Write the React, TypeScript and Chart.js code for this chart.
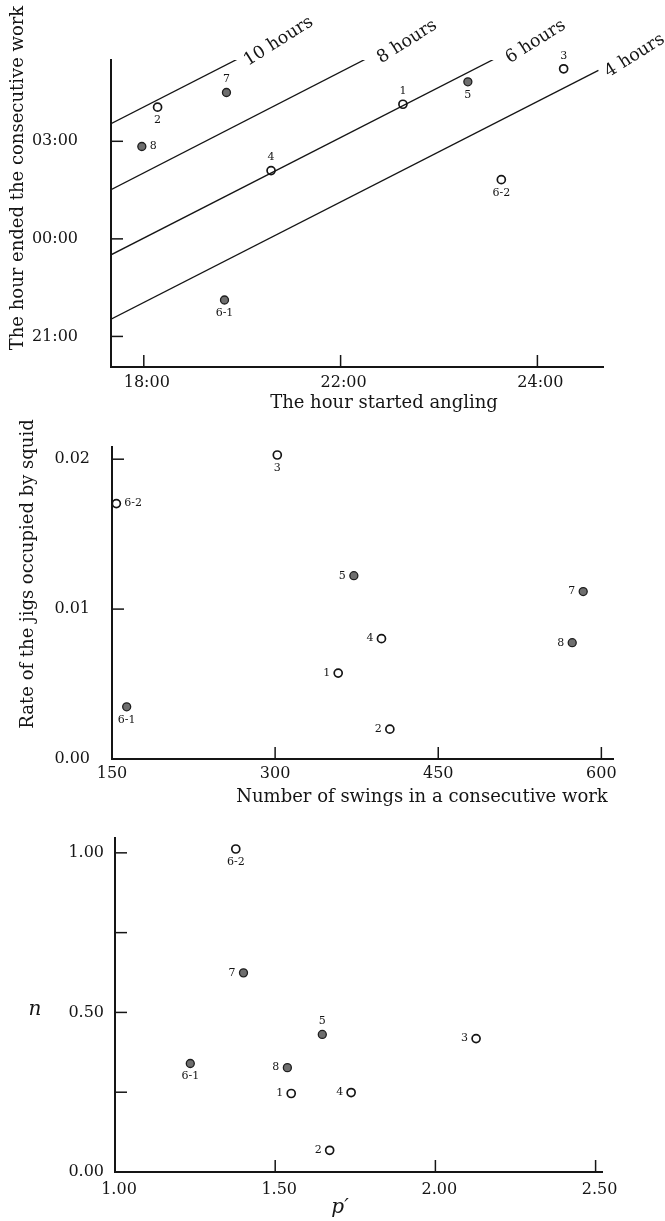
import React, { useEffect, useRef } from 'react';
import { Chart, registerables } from 'chart.js';

Chart.register(...registerables);

// ---------- shared ----------
const pointIds = ['1', '2', '3', '4', '5', '6-1', '6-2', '7', '8'];
const filledIds = ['5', '6-1', '7', '8'];

// ---------- figure 1 ----------
const startHour = [21.95, 18.21, 24.4, 19.94, 22.94, 19.23, 23.45, 19.26, 17.97];
const endHour = [28.14, 28.05, 29.23, 26.1, 28.83, 22.12, 25.82, 28.5, 26.84];
const durationLabels = ['10 hours', '8 hours', '6 hours', '4 hours'];
const durStartX = [17.5, 17.5, 17.5, 17.5];
const durStartY = [27.54, 25.51, 23.51, 21.53];
const durEndX = [19.43, 21.46, 23.42, 24.93];
const durEndY = [29.53, 29.61, 29.61, 29.18];
const hourTickValues = [18, 21, 24];
const hourTickLabels = ['18:00', '22:00', '24:00'];
const endTickValues = [21, 24, 27];
const endTickLabels = ['21:00', '00:00', '03:00'];

// ---------- figure 2 ----------
const swings = [358, 405.5, 302, 397.8, 372.4, 163.5, 154, 583.3, 573.2];
const jigRate = [0.00573, 0.00199, 0.02028, 0.00803, 0.01223, 0.00348, 0.01704, 0.01117, 0.00776];
const swingTickValues = [150, 300, 450, 600];
const swingTickLabels = ['150', '300', '450', '600'];
const rateTickValues = [0, 0.01, 0.02];
const rateTickLabels = ['0.00', '0.01', '0.02'];

// ---------- figure 3 ----------
const pPrime = [1.55, 1.67, 2.127, 1.737, 1.647, 1.235, 1.377, 1.401, 1.538];
const nValues = [0.246, 0.068, 0.418, 0.249, 0.431, 0.34, 1.012, 0.624, 0.327];
const pTickValues = [1.0, 1.5, 2.0, 2.5];
const pTickLabels = ['1.00', '1.50', '2.00', '2.50'];
const nTickValues = [0, 0.25, 0.5, 0.75, 1.0];
const nTickLabels = ['0.00', '', '0.50', '', '1.00'];

// label placement (style) per point id order
const side1 = ['above', 'below', 'above', 'above', 'below', 'below', 'below', 'above', 'right'];
const side2 = ['left', 'left', 'below', 'left', 'left', 'below', 'right', 'left', 'left'];
const side3 = ['left', 'left', 'left', 'left', 'above', 'below', 'below', 'left', 'left'];

const FONT = '"DejaVu Serif", serif';
const INK = '#151515';

function pointsFor(xs: number[], ys: number[], filled: boolean) {
  return pointIds
    .map((id, i) => ({ x: xs[i], y: ys[i], id }))
    .filter((p) => filledIds.includes(p.id) === filled);
}

const annotPlugin = {
  id: 'annot',
  afterDraw(chart: any, _args: any, opts: any) {
    const ctx = chart.ctx as CanvasRenderingContext2D;
    const xs = chart.scales.x;
    const ys = chart.scales.y;
    const area = chart.chartArea;
    ctx.save();
    ctx.strokeStyle = INK;
    ctx.lineWidth = 1.5;
    const tl = 12;
    (opts.xTicks || []).forEach((v: number) => {
      const px = xs.getPixelForValue(v);
      ctx.beginPath();
      ctx.moveTo(px, area.bottom);
      ctx.lineTo(px, area.bottom - tl);
      ctx.stroke();
    });
    (opts.yTicks || []).forEach((v: number) => {
      const py = ys.getPixelForValue(v);
      ctx.beginPath();
      ctx.moveTo(area.left, py);
      ctx.lineTo(area.left + tl, py);
      ctx.stroke();
    });

    chart.data.datasets.forEach((ds: any, di: number) => {
      const meta = chart.getDatasetMeta(di);
      if (ds.lineLabel) {
        const p0 = meta.data[0];
        const p1 = meta.data[meta.data.length - 1];
        const ang = Math.atan2(p1.y - p0.y, p1.x - p0.x);
        ctx.save();
        ctx.translate(p1.x, p1.y);
        ctx.rotate(ang);
        ctx.translate(6, 11);
        ctx.rotate(-0.09);
        ctx.font = '17.5px ' + FONT;
        ctx.fillStyle = INK;
        ctx.textAlign = 'left';
        ctx.textBaseline = 'alphabetic';
        ctx.fillText(ds.lineLabel, 0, 0);
        ctx.restore();
      }
      if (ds.pointLabels) {
        ctx.font = '11px ' + FONT;
        ctx.fillStyle = INK;
        meta.data.forEach((el: any, i: number) => {
          const id = ds.data[i].id;
          const side = opts.sides[pointIds.indexOf(id)];
          let x = el.x;
          let y = el.y;
          ctx.textBaseline = 'middle';
          if (side === 'above') { ctx.textAlign = 'center'; y -= 13; }
          else if (side === 'below') { ctx.textAlign = 'center'; y += 13; }
          else if (side === 'left') { ctx.textAlign = 'right'; x -= 8; }
          else { ctx.textAlign = 'left'; x += 8; }
          ctx.fillText(id, x, y);
        });
      }
    });

    (opts.texts || []).forEach((t: any) => {
      ctx.save();
      ctx.translate(t.x, t.y);
      if (t.rot) ctx.rotate(t.rot);
      ctx.font = (t.italic ? 'italic ' : '') + t.size + 'px ' + FONT;
      ctx.fillStyle = INK;
      ctx.textAlign = 'center';
      ctx.textBaseline = 'middle';
      ctx.fillText(t.text, 0, 0);
      ctx.restore();
    });
    ctx.restore();
  },
};

function axis(opts: {
  min: number; max: number; values: number[]; labels: string[]; padding: number;
  fit: (s: any) => void; labelOffset?: number;
}) {
  return {
    type: 'linear',
    min: opts.min,
    max: opts.max,
    afterBuildTicks: (s: any) => { s.ticks = opts.values.map((v) => ({ value: v })); },
    afterFit: opts.fit,
    ticks: {
      callback: (_v: any, i: number) => opts.labels[i] ?? '',
      font: { size: 16, family: FONT },
      color: INK,
      padding: opts.padding,
      autoSkip: false,
      maxRotation: 0,
      minRotation: 0,
      labelOffset: opts.labelOffset ?? 0,
    },
    grid: { display: false, drawTicks: false },
    border: { display: true, color: INK, width: 2 },
  };
}

const openStyle = {
  pointRadius: 4,
  pointBackgroundColor: '#ffffff',
  pointBorderColor: INK,
  pointBorderWidth: 1.7,
  showLine: false,
  pointLabels: true,
};
const filledStyle = {
  pointRadius: 4,
  pointBackgroundColor: '#6e6e6e',
  pointBorderColor: '#1e1e1e',
  pointBorderWidth: 1.3,
  showLine: false,
  pointLabels: true,
};

function baseOptions(pad: any, scales: any, annot: any) {
  return {
    responsive: false,
    animation: false,
    events: [],
    layout: { padding: pad },
    plugins: { legend: { display: false }, tooltip: { enabled: false }, annot },
    scales,
  };
}

function config1(h: number) {
  const lines = durationLabels.map((lab, i) => ({
    type: 'scatter',
    data: [{ x: durStartX[i], y: durStartY[i] }, { x: durEndX[i], y: durEndY[i] }],
    showLine: true,
    pointRadius: 0,
    borderColor: INK,
    borderWidth: 1.3,
    lineLabel: lab,
  }));
  return {
    type: 'scatter',
    data: {
      datasets: [
        ...lines,
        { data: pointsFor(startHour, endHour, false), ...openStyle },
        { data: pointsFor(startHour, endHour, true), ...filledStyle },
      ],
    },
    options: baseOptions(
      { top: 60, right: 62, left: 0, bottom: 0 },
      {
        x: axis({ min: 17.5, max: 25.0, values: hourTickValues, labels: hourTickLabels, padding: 6, labelOffset: 3, fit: (s) => { s.height = h - 367; } }),
        y: axis({ min: 20.06, max: 29.5, values: endTickValues, labels: endTickLabels, padding: 33, fit: (s) => { s.width = 111; } }),
      },
      {
        xTicks: hourTickValues,
        yTicks: endTickValues,
        sides: side1,
        texts: [
          { text: 'The hour ended the consecutive work', x: 18, y: 178, rot: -Math.PI / 2, size: 18 },
          { text: 'The hour started angling', x: 384, y: 403, size: 18 },
        ],
      }
    ),
    plugins: [annotPlugin],
  };
}

function config2(h: number) {
  return {
    type: 'scatter',
    data: {
      datasets: [
        { data: pointsFor(swings, jigRate, false), ...openStyle },
        { data: pointsFor(swings, jigRate, true), ...filledStyle },
      ],
    },
    options: baseOptions(
      { top: 5, right: 52, left: 0, bottom: 0 },
      {
        x: axis({ min: 150, max: 610.7, values: swingTickValues, labels: swingTickLabels, padding: 5, fit: (s) => { s.height = h - 344; } }),
        y: axis({ min: 0, max: 0.02084, values: rateTickValues, labels: rateTickLabels, padding: 22, fit: (s) => { s.width = 112; } }),
      },
      {
        xTicks: [300, 450, 600],
        yTicks: [0.01, 0.02],
        sides: side2,
        texts: [
          { text: 'Rate of the jigs occupied by squid', x: 28, y: 159, rot: -Math.PI / 2, size: 18 },
          { text: 'Number of swings in a consecutive work', x: 422, y: 382, size: 18 },
        ],
      }
    ),
    plugins: [annotPlugin],
  };
}

function config3(h: number) {
  return {
    type: 'scatter',
    data: {
      datasets: [
        { data: pointsFor(pPrime, nValues, false), ...openStyle },
        { data: pointsFor(pPrime, nValues, true), ...filledStyle },
      ],
    },
    options: baseOptions(
      { top: 23, right: 63, left: 0, bottom: 0 },
      {
        x: axis({ min: 1.0, max: 2.52, values: pTickValues, labels: pTickLabels, padding: 8, labelOffset: 4, fit: (s) => { s.height = h - 357; } }),
        y: axis({ min: 0, max: 1.0465, values: nTickValues, labels: nTickLabels, padding: 11, fit: (s) => { s.width = 115; } }),
      },
      {
        xTicks: [1.5, 2.0, 2.5],
        yTicks: [0.25, 0.5, 0.75, 1.0],
        sides: side3,
        texts: [
          { text: 'n', x: 35, y: 195, size: 20, italic: true },
          { text: 'p\u2032', x: 340, y: 393, size: 20, italic: true },
        ],
      }
    ),
    plugins: [annotPlugin],
  };
}

function ChartCanvas({ top, height, make }: { top: number; height: number; make: (h: number) => any }) {
  const ref = useRef<HTMLCanvasElement>(null);
  useEffect(() => {
    const c = new Chart(ref.current as HTMLCanvasElement, make(height));
    return () => c.destroy();
  }, []);
  return (
    <canvas
      ref={ref}
      width={665}
      height={height}
      style={{ position: 'absolute', left: 0, top, width: 665, height }}
    />
  );
}

export default function App() {
  return (
    <div style={{ position: 'absolute', left: 0, top: 0, width: 665, height: 1221, background: '#ffffff', overflow: 'hidden' }}>
      <ChartCanvas top={0} height={415} make={config1} />
      <ChartCanvas top={415} height={400} make={config2} />
      <ChartCanvas top={815} height={406} make={config3} />
    </div>
  );
}
